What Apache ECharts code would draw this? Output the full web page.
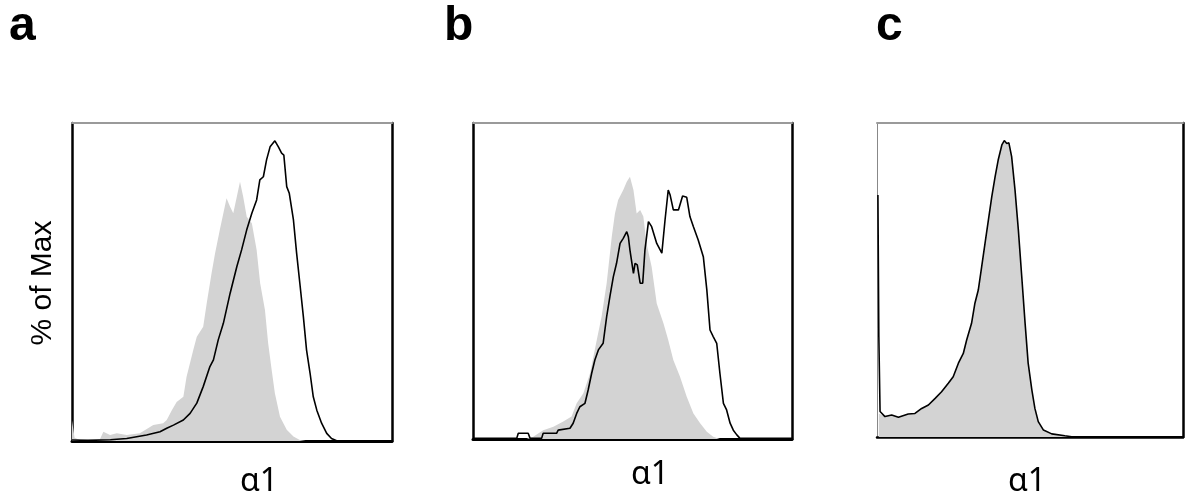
<!DOCTYPE html>
<html>
<head>
<meta charset="utf-8">
<script src="https://cdn.jsdelivr.net/npm/echarts@6/dist/echarts.min.js"></script>
<style>
html,body{margin:0;padding:0;background:#fff;}
#chart{width:1186px;height:497px;}
</style>
</head>
<body>
<div id="chart"></div>
<script>
// Panel labels and axis texts
var panelLabels = ['a', 'b', 'c'];
var xAxisTitle = 'α1';
var yAxisTitle = '% of Max';

// Panel a: grey filled histogram (control) and black outline histogram, [x %, % of Max]
var aGray = [[0,6.5],[0.8,1],[2.5,0.3],[8.7,0.5],[9.8,2.9],[11.9,1.9],[14.0,2.4],[17.1,1.9],[21.2,2.4],[25.4,5.0],[28.5,5.6],[29.6,6.6],[31.2,9.7],[32.7,12.3],[34.8,13.9],[35.8,20.2],[37.9,28.6],[39.0,32.8],[41.0,35.9],[42.1,43.3],[43.6,52.7],[44.7,59.0],[46.2,66.4],[47.3,71.6],[48.3,76.3],[49.4,73.7],[50.4,71.6],[51.5,76.8],[52.5,81.5],[53.5,76.8],[54.6,70.5],[56.2,68.5],[57.7,60.1],[58.8,49.6],[60.3,41.2],[61.3,30.7],[62.4,22.3],[63.4,15.0],[65.0,7.6],[67.1,3.5],[69.2,1.4],[71.2,0.3],[73,0],[100,0]];
var aLine = [[0,0.3],[5,0.2],[12,0.4],[17.1,0.8],[23.3,1.9],[27.5,2.9],[29.6,4.0],[31.7,5.0],[34.8,6.6],[36.9,8.7],[39.0,11.9],[41.0,17.1],[43.1,23.4],[44.2,25.5],[45.7,31.8],[47.3,37.0],[49.4,46.4],[51.5,54.8],[53.0,60.1],[54.6,66.4],[56.2,71.6],[57.7,75.8],[58.7,82.1],[59.8,83.1],[60.8,88.4],[61.9,92.5],[63.4,94.4],[64.5,92.5],[65.5,90.5],[66.2,89.9],[67.1,80.0],[67.9,77.9],[69.2,69.5],[70.2,59.0],[71.2,49.6],[72.3,39.1],[73.3,28.6],[74.4,21.3],[75.4,13.9],[76.5,9.7],[78.0,5.6],[79.6,2.4],[81.1,0.8],[82.7,0.1],[100,0]];

// Panel b
var bGray = [[0,0],[16.8,0],[18.9,0.7],[22.0,2.8],[25.2,3.9],[28.3,5.5],[30.9,7.1],[32.5,11.3],[34.6,14.5],[36.7,20.8],[38.8,31.3],[40.3,38.7],[41.9,49.3],[43.5,64.0],[44.5,71.4],[45.5,75.6],[47.1,78.8],[48.2,81.4],[49.2,83.0],[50.3,78.8],[51.3,71.4],[52.4,72.5],[53.4,70.4],[54.4,61.9],[56.0,54.5],[57.6,42.9],[59.7,36.6],[61.2,31.3],[62.8,25.0],[64.9,19.7],[67.0,13.4],[69.1,8.1],[71.2,5.0],[73.3,2.3],[75.3,0.7],[77.4,0],[100,0]];
var bLine = [[0,0.2],[13.7,0.2],[14.2,1.8],[17.3,1.8],[17.9,0.2],[21.5,0.2],[22.0,1.8],[26.2,1.8],[26.7,2.8],[30.4,3.4],[31.4,5.0],[32.5,8.1],[33.5,10.2],[35.1,11.3],[36.1,15.5],[37.2,20.8],[38.2,25.0],[39.3,28.2],[40.8,30.3],[41.9,38.7],[42.9,45.0],[44.0,51.4],[45.0,55.6],[46.1,61.9],[47.1,63.5],[48.2,65.6],[48.7,64.0],[49.2,59.8],[50.3,52.4],[50.8,55.6],[51.5,55.1],[52.4,49.3],[53.2,49.3],[53.9,59.8],[55.0,68.8],[56.0,67.2],[57.6,61.9],[59.2,58.8],[60.2,69.3],[61.2,78.8],[61.8,77.2],[62.8,72.5],[64.4,72.5],[65.7,76.9],[67.0,76.5],[68.0,70.4],[69.1,67.2],[70.6,63.0],[72.2,57.7],[73.3,47.2],[74.3,34.5],[75.3,32.4],[76.4,30.3],[77.4,20.8],[78.5,11.3],[79.5,9.2],[80.6,5.0],[81.6,2.8],[82.7,1.3],[83.7,0.2],[100,0.2]];

// Panel c
var cGray = [[0.6,7.5],[1.0,8.1],[2.6,6.5],[4.8,7.0],[7.0,6.3],[10.2,7.3],[12.4,7.5],[14.6,9.1],[16.8,10.2],[19.0,12.3],[21.1,14.4],[23.3,17.1],[24.9,19.2],[26.6,23.5],[28.2,26.6],[29.3,30.9],[30.9,36.2],[32.0,42.6],[33.1,46.8],[34.2,54.2],[35.3,61.7],[36.4,69.1],[37.5,76.5],[38.6,82.9],[39.6,88.2],[40.8,93.0],[41.6,94.4],[42.4,93.5],[43.1,93.7],[44.0,89.3],[45.1,78.7],[46.2,65.9],[47.3,51.1],[48.4,36.2],[49.4,23.5],[50.6,15.0],[51.6,9.1],[52.7,4.9],[54.4,2.2],[57.1,1.0],[61.4,0.4],[63.6,0],[100,0]];
var cLine = [[0.3,77.1],[0.6,31.9],[1.0,8.1],[2.6,6.5],[4.8,7.0],[7.0,6.3],[10.2,7.3],[12.4,7.5],[14.6,9.1],[16.8,10.2],[19.0,12.3],[21.1,14.4],[23.3,17.1],[24.9,19.2],[26.6,23.5],[28.2,26.6],[29.3,30.9],[30.9,36.2],[32.0,42.6],[33.1,46.8],[34.2,54.2],[35.3,61.7],[36.4,69.1],[37.5,76.5],[38.6,82.9],[39.6,88.2],[40.8,93.0],[41.6,94.4],[42.4,93.5],[43.1,93.7],[44.0,89.3],[45.1,78.7],[46.2,65.9],[47.3,51.1],[48.4,36.2],[49.4,23.5],[50.6,15.0],[51.6,9.1],[52.7,4.9],[54.4,2.2],[57.1,1.0],[61.4,0.4],[63.6,0.1],[100,0.1]];

var panels = [
  {gray: aGray, line: aLine, grid: {left: 72, top: 123, width: 320, height: 318}, leftColor: '#000', leftWidth: 2.5, bottomWidth: 3, title: {x: 9, y: 27}, xt: {x: 259, y: 482}},
  {gray: bGray, line: bLine, grid: {left: 473, top: 123, width: 319, height: 316}, leftColor: '#000', leftWidth: 2.5, bottomWidth: 3, title: {x: 444, y: 27}, xt: {x: 650, y: 475}},
  {gray: cGray, line: cLine, grid: {left: 877, top: 123, width: 306, height: 314}, leftColor: '#888', leftWidth: 1, bottomWidth: 2.5, title: {x: 876, y: 27}, xt: {x: 1027, y: 482}}
];

var grids = [], xAxes = [], yAxes = [], series = [], graphics = [];
panels.forEach(function (p, i) {
  grids.push(p.grid);
  var hidden = {axisTick: {show: false}, axisLabel: {show: false}, splitLine: {show: false}};
  xAxes.push(Object.assign({type: 'value', gridIndex: i, min: 0, max: 100, position: 'bottom',
    axisLine: {show: true, onZero: false, lineStyle: {color: '#000', width: p.bottomWidth}}}, hidden));
  xAxes.push(Object.assign({type: 'value', gridIndex: i, min: 0, max: 100, position: 'top',
    axisLine: {show: true, onZero: false, lineStyle: {color: '#9a9a9a', width: 2}}}, hidden));
  yAxes.push(Object.assign({type: 'value', gridIndex: i, min: 0, max: 100, position: 'left',
    axisLine: {show: true, onZero: false, lineStyle: {color: p.leftColor, width: p.leftWidth}}}, hidden));
  yAxes.push(Object.assign({type: 'value', gridIndex: i, min: 0, max: 100, position: 'right',
    axisLine: {show: true, onZero: false, lineStyle: {color: '#000', width: 2.5}}}, hidden));
  series.push({type: 'line', xAxisIndex: 2 * i, yAxisIndex: 2 * i, data: p.gray, showSymbol: false, silent: true,
    lineStyle: {width: 0, color: '#d3d3d3'}, itemStyle: {color: '#d3d3d3'},
    areaStyle: {color: '#d3d3d3', opacity: 1}, z: 1});
  series.push({type: 'line', xAxisIndex: 2 * i, yAxisIndex: 2 * i, data: p.line, showSymbol: false, silent: true,
    lineStyle: {width: 1.6, color: '#000'}, itemStyle: {color: '#000'}, z: 3});
  graphics.push({type: 'text', x: p.title.x, y: p.title.y,
    style: {text: panelLabels[i], font: 'bold 48px "Liberation Sans", Arial, sans-serif', fill: '#000',
      textAlign: 'left', textVerticalAlign: 'middle'}});
  graphics.push({type: 'text', x: p.xt.x, y: p.xt.y,
    style: {text: xAxisTitle, font: '32px "Noto Sans", sans-serif', fill: '#000',
      textAlign: 'center', textVerticalAlign: 'middle'}});
});
graphics.push({type: 'text', x: 43, y: 283, rotation: Math.PI / 2,
  style: {text: yAxisTitle, font: '30px "Liberation Sans", Arial, sans-serif', fill: '#000',
    textAlign: 'center', textVerticalAlign: 'middle'}});

var chart = echarts.init(document.getElementById('chart'), null, {renderer: 'canvas'});
chart.setOption({
  animation: false,
  backgroundColor: '#fff',
  grid: grids,
  xAxis: xAxes,
  yAxis: yAxes,
  series: series,
  graphic: graphics
});
</script>
</body>
</html>
